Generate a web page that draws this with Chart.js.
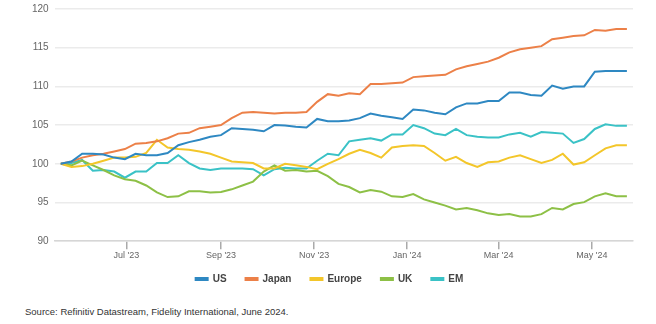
<!DOCTYPE html>
<html>
<head>
<meta charset="utf-8">
<script src="https://cdn.jsdelivr.net/npm/chart.js@4.4.1/dist/chart.umd.min.js"></script>
<style>
  body { margin: 0; background: #fff; font-family: "Liberation Sans", Arial, sans-serif; }
  #wrap { position: relative; width: 656px; height: 304px; margin-top: -3px; }
  #source { position: absolute; left: 25px; top: 306px; font-size: 9.5px; color: #333; }
</style>
</head>
<body>
<div id="wrap"><canvas id="perf"></canvas></div>
<div id="source">Source: Refinitiv Datastream, Fidelity International, June 2024.</div>
<script>
/* --------------- Weekly dates --------------- */
const weeks = [
  "2023-05-19", "2023-05-26", "2023-06-02", "2023-06-09", "2023-06-16", "2023-06-23",
  "2023-06-30", "2023-07-07", "2023-07-14", "2023-07-21", "2023-07-28", "2023-08-04",
  "2023-08-11", "2023-08-18", "2023-08-25", "2023-09-01", "2023-09-08", "2023-09-15",
  "2023-09-22", "2023-09-29", "2023-10-06", "2023-10-13", "2023-10-20", "2023-10-27",
  "2023-11-03", "2023-11-10", "2023-11-17", "2023-11-24", "2023-12-01", "2023-12-08",
  "2023-12-15", "2023-12-22", "2023-12-29", "2024-01-05", "2024-01-12", "2024-01-19",
  "2024-01-26", "2024-02-02", "2024-02-09", "2024-02-16", "2024-02-23", "2024-03-01",
  "2024-03-08", "2024-03-15", "2024-03-22", "2024-03-29", "2024-04-05", "2024-04-12",
  "2024-04-19", "2024-04-26", "2024-05-03", "2024-05-10", "2024-05-17", "2024-05-24"
];

/* --------------- Index levels (rebased to 100) --------------- */
const us = [
  100, 100.3, 101.3, 101.3, 101.2, 100.8, 100.6, 101.3, 101.1, 101.1, 101.4, 102.4,
  102.8, 103.1, 103.5, 103.7, 104.6, 104.5, 104.4, 104.2, 105.0, 104.95, 104.8, 104.7,
  105.8, 105.5, 105.5, 105.6, 105.9, 106.5, 106.2, 106.0, 105.8, 107.0, 106.9, 106.6,
  106.4, 107.3, 107.8, 107.8, 108.1, 108.1, 109.2, 109.2, 108.9, 108.8, 110.1, 109.7,
  110.0, 110.0, 111.9, 112.0, 112.0, 112.0
];
const japan = [
  100, 100.3, 100.8, 101.1, 101.3, 101.6, 101.9, 102.6, 102.7, 102.9, 103.3, 103.9,
  104.0, 104.6, 104.8, 105.0, 105.9, 106.6, 106.7, 106.6, 106.5, 106.6, 106.6, 106.7,
  108.0, 109.0, 108.8, 109.1, 109.0, 110.3, 110.3, 110.4, 110.5, 111.2, 111.3, 111.4,
  111.5, 112.2, 112.6, 112.9, 113.2, 113.7, 114.4, 114.8, 115.0, 115.2, 116.1, 116.3,
  116.5, 116.6, 117.3, 117.2, 117.4, 117.4
];
const europe = [
  100, 99.6, 99.7, 100.0, 100.4, 100.8, 100.8, 100.9, 101.4, 103.1, 102.1, 101.9,
  101.8, 101.6, 101.3, 100.8, 100.3, 100.2, 100.1, 99.4, 99.4, 100.0, 99.8, 99.6,
  99.3, 100.0, 100.6, 101.3, 101.8, 101.4, 100.8, 102.1, 102.3, 102.4, 102.3, 101.4,
  100.4, 100.9, 100.1, 99.6, 100.2, 100.3, 100.8, 101.1, 100.6, 100.1, 100.5, 101.3,
  99.9, 100.2, 101.1, 102.0, 102.4, 102.4
];
const uk = [
  100, 99.8, 100.4, 99.8, 99.2, 98.5, 98.0, 97.8, 97.2, 96.3, 95.7, 95.8,
  96.45, 96.45, 96.3, 96.35, 96.7, 97.2, 97.7, 99.0, 99.8, 99.1, 99.2, 99.0,
  99.1, 98.4, 97.4, 97.0, 96.3, 96.6, 96.4, 95.8, 95.7, 96.1, 95.4, 95.0,
  94.6, 94.1, 94.3, 94.0, 93.6, 93.4, 93.5, 93.2, 93.2, 93.5, 94.3, 94.1,
  94.8, 95.05, 95.8, 96.2, 95.8, 95.8
];
const em = [
  100, 100.1, 100.5, 99.1, 99.2, 99.0, 98.2, 99.0, 99.0, 100.1, 100.1, 101.1,
  100.1, 99.4, 99.2, 99.4, 99.4, 99.4, 99.3, 98.5, 99.3, 99.5, 99.4, 99.4,
  100.4, 101.3, 101.1, 102.9, 103.1, 103.3, 103.0, 103.8, 103.8, 105.0, 104.6, 103.9,
  103.7, 104.5, 103.7, 103.5, 103.4, 103.4, 103.8, 104.0, 103.5, 104.1, 104.0, 103.9,
  102.7, 103.2, 104.5, 105.1, 104.9, 104.9
];

/* --------------- Axis ticks --------------- */
const tickDates = ["2023-07-01", "2023-09-01", "2023-11-01", "2024-01-01", "2024-03-01", "2024-05-01"];
const tickLabels = ["Jul '23", "Sep '23", "Nov '23", "Jan '24", "Mar '24", "May '24"];
const yTicks = [90, 95, 100, 105, 110, 115, 120];

/* --------------- Helpers --------------- */
const toDay = (d) => Date.parse(d + "T00:00:00Z") / 86400000;
const tickDays = tickDates.map(toDay);
const points = (vals) => vals.map((v, i) => ({ x: toDay(weeks[i]), y: v }));

const series = [
  { label: "US", data: us, color: "#2e88c2" },
  { label: "Japan", data: japan, color: "#ec8048" },
  { label: "Europe", data: europe, color: "#f3c62a" },
  { label: "UK", data: uk, color: "#8dc046" },
  { label: "EM", data: em, color: "#3ac2c6" },
];

// pull the legend row a little closer to the axis labels
const legendLift = {
  id: "legendLift",
  afterLayout(chart) {
    chart.legend.top -= 7;
    chart.legend.bottom -= 7;
  },
};

new Chart(document.getElementById("perf"), {
  type: "line",
  plugins: [legendLift],
  data: {
    datasets: series.map((s) => ({
      label: s.label,
      data: points(s.data),
      borderColor: s.color,
      backgroundColor: s.color,
      borderWidth: 2,
      pointRadius: 0,
      tension: 0,
    })),
  },
  options: {
    responsive: true,
    maintainAspectRatio: false,
    animation: false,
    layout: { padding: { left: 26, right: 23, top: 1, bottom: 0 } },
    plugins: {
      tooltip: { enabled: false },
      legend: {
        position: "bottom",
        labels: {
          boxWidth: 12,
          boxHeight: 2,
          padding: 19,
          color: "#444",
          font: { family: "'Liberation Sans', Arial", size: 10, weight: "bold" },
        },
      },
    },
    scales: {
      x: {
        type: "linear",
        min: toDay(weeks[0]) - 4,
        max: toDay(weeks[weeks.length - 1]) + 4,
        afterBuildTicks: (axis) => {
          axis.ticks = tickDays.map((v) => ({ value: v }));
        },
        ticks: {
          autoSkip: false,
          maxRotation: 0,
          color: "#666",
          font: { family: "'Liberation Sans', Arial", size: 9 },
          padding: 1,
          callback: (v) => tickLabels[tickDays.indexOf(v)],
        },
        grid: { drawOnChartArea: false, drawTicks: true, tickLength: 8, color: "#aaa", lineWidth: 1.5 },
        border: { color: "#d6d6d6", width: 1.5 },
      },
      y: {
        min: 90,
        max: 120,
        afterBuildTicks: (axis) => {
          axis.ticks = yTicks.map((v) => ({ value: v }));
        },
        ticks: {
          color: "#666",
          font: { family: "'Liberation Sans', Arial", size: 10 },
          padding: 6,
        },
        grid: { color: "#ebebeb", lineWidth: 1.5, drawTicks: false },
        border: { display: false },
      },
    },
  },
});
</script>
</body>
</html>
